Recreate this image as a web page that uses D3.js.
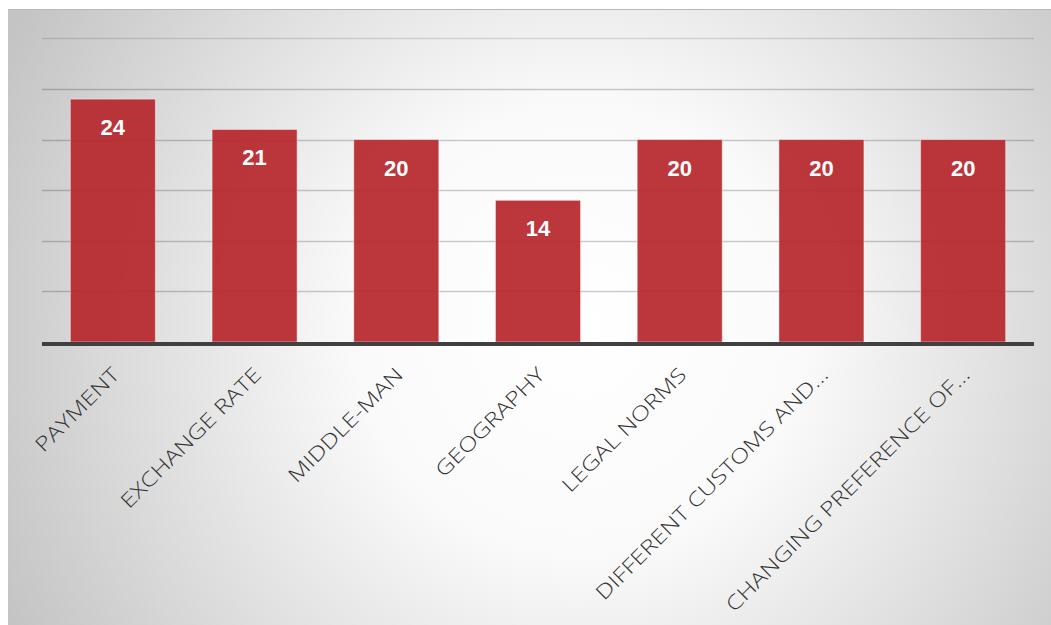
<!DOCTYPE html>
<html>
<head>
<meta charset="utf-8">
<script src="https://cdn.jsdelivr.net/npm/d3@7"></script>
<style>
  html, body { margin: 0; padding: 0; background: #fff; }
  svg { display: block; }
</style>
</head>
<body>
<script>
// chart data
const categories = ["PAYMENT", "EXCHANGE RATE", "MIDDLE-MAN", "GEOGRAPHY", "LEGAL NORMS",
    "DIFFERENT CUSTOMS AND\u2026", "CHANGING PREFERENCE OF\u2026"];
const values = [24, 21, 20, 14, 20, 20, 20];
const gridTicks = [5, 10, 15, 20, 25, 30];

const width = 1051, height = 625;
const margin = { top: 38.4, right: 17, bottom: 283, left: 42 };

const svg = d3.select("body").append("svg")
    .attr("width", width)
    .attr("height", height);

// background panel with radial gradient
const defs = svg.append("defs");
const grad = defs.append("radialGradient")
    .attr("id", "bg")
    .attr("gradientUnits", "userSpaceOnUse")
    .attr("cx", 580).attr("cy", 330).attr("r", 640);
grad.append("stop").attr("offset", "0%").attr("stop-color", "#ffffff");
grad.append("stop").attr("offset", "35%").attr("stop-color", "#fafafa");
grad.append("stop").attr("offset", "100%").attr("stop-color", "#c4c4c4");

svg.append("rect")
    .attr("x", 8).attr("y", 9)
    .attr("width", width - 8).attr("height", height - 9)
    .attr("fill", "url(#bg)");
svg.append("line")
    .attr("x1", 8).attr("x2", width)
    .attr("y1", 9.5).attr("y2", 9.5)
    .attr("stroke", "#b8b8b8");

const x = d3.scaleBand()
    .domain(categories)
    .range([margin.left, width - margin.right])
    .paddingInner(0.4)
    .paddingOuter(0.2);

const y = d3.scaleLinear()
    .domain([0, 30])
    .range([height - margin.bottom, margin.top]);

// gridlines
svg.append("g")
    .selectAll("line")
    .data(gridTicks)
    .enter().append("line")
    .attr("x1", margin.left)
    .attr("x2", width - margin.right)
    .attr("y1", d => Math.round(y(d)) + 0.5)
    .attr("y2", d => Math.round(y(d)) + 0.5)
    .attr("stroke", d => d === 30 ? "rgba(0,0,0,0.12)" : "rgba(0,0,0,0.2)")
    .attr("stroke-width", 1.5);

// bars
svg.append("g")
    .selectAll("rect")
    .data(values)
    .enter().append("rect")
    .attr("x", (d, i) => x(categories[i]))
    .attr("y", d => y(d))
    .attr("width", x.bandwidth())
    .attr("height", d => y(0) - y(d))
    .attr("fill", "#b5262a")
    .attr("fill-opacity", 0.92)
    .attr("stroke", "rgba(255,255,255,0.45)")
    .attr("stroke-width", 1);

// value labels
svg.append("g")
    .selectAll("text")
    .data(values)
    .enter().append("text")
    .attr("x", (d, i) => x(categories[i]) + x.bandwidth() / 2)
    .attr("y", d => y(d) + 36)
    .attr("text-anchor", "middle")
    .attr("font-family", "'Liberation Sans', Arial, sans-serif")
    .attr("font-weight", "bold")
    .attr("font-size", "22px")
    .attr("fill", "#ffffff")
    .text(d => d);

// baseline
svg.append("line")
    .attr("x1", margin.left)
    .attr("x2", width - margin.right)
    .attr("y1", y(0) + 2)
    .attr("y2", y(0) + 2)
    .attr("stroke", "#404040")
    .attr("stroke-width", 4);

// category labels, rotated (stretched a bit to mimic the wide original face)
svg.append("g")
    .selectAll("text")
    .data(categories)
    .enter().append("text")
    .attr("transform", d => "translate(" + (x(d) + x.bandwidth() / 2 + 8) + "," + (y(0) + 34) + ")rotate(-45)scale(1.25,1)")
    .attr("text-anchor", "end")
    .attr("font-family", "'Open Sans', 'DejaVu Sans', sans-serif")
    .attr("font-weight", 300)
    .attr("font-size", "20px")
    .attr("fill", "#333333")
    .text(d => d);
</script>
</body>
</html>
